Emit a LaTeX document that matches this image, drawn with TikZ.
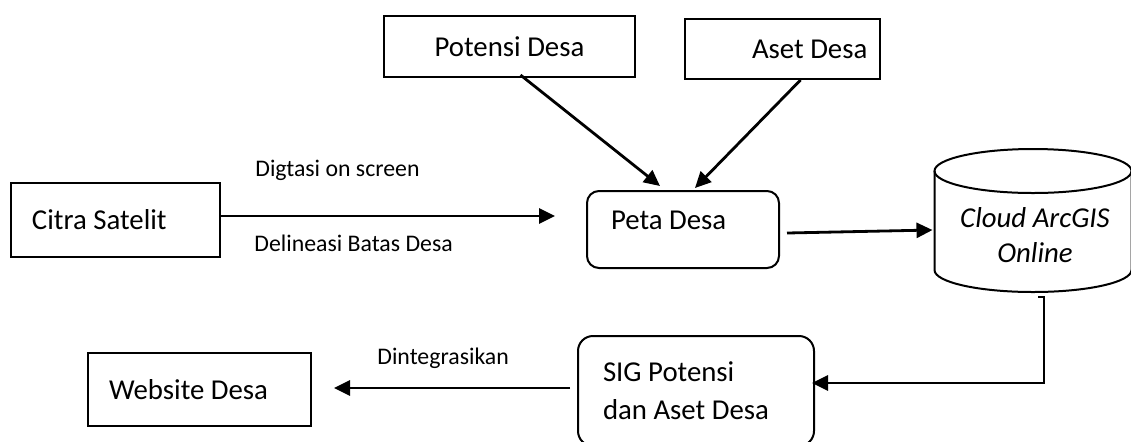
\documentclass[tikz,border=0pt]{standalone}
\usepackage{fontspec}
\setmainfont{Carlito}
\usetikzlibrary{arrows.meta,calc}

\tikzset{
  box/.style={draw, line width=1pt, font=\fontsize{14.4}{19}\selectfont,
    execute at begin node={\spaceskip=0pt\xspaceskip=0pt\relax}},
  rbox/.style={box, rounded corners=6pt},
  lbl/.style={font=\fontsize{11.9}{14}\selectfont, anchor=west, inner sep=0pt},
  arr/.style={line width=1.4pt, -{Triangle[length=8pt, width=7.5pt]}}
}

\begin{document}
\begin{tikzpicture}[x=0.5pt, y=-0.5pt]
  \useasboundingbox (0,0) rectangle (1131,441);
  \node[box, minimum height=37pt, inner xsep=10.5pt, text width=83.5pt, align=left] (citra) at(115.5,220){Citra Satelit};
  \node[box, minimum width=125.5pt, minimum height=30.5pt] (potensi) at(509.5,46.5){Potensi Desa};
  \node[box, minimum height=30pt, inner xsep=6pt, text width=85.5pt, align=left] (aset) at(782.5,49){\hspace*{27.5pt}Aset Desa};
  \node[rbox, minimum height=38.5pt, inner xsep=12pt, text width=72pt, text depth=9pt, align=left] (peta) at(683,229.5){Peta Desa};
  \node[box, minimum height=36.5pt, inner xsep=10.5pt, text width=90.5pt, align=left] (website) at(199.5,389.5){Website Desa};
  \node[rbox, rounded corners=7.5pt, minimum height=55pt, inner xsep=12.5pt, text width=93pt, align=left] (sig) at(696,391){SIG Potensi\\dan Aset Desa};
  \node[font=\fontsize{14.4}{17.5}\selectfont\itshape, align=center] (cloud) at(1035,235.5){Cloud ArcGIS\\Online};

  \coordinate (cyl) at(1033,171);
  \draw[line width=1pt] (cyl) ellipse[x radius=98.5, y radius=22];
  \draw[line width=1pt] ($(cyl)+(-98.5,0)$) -- ++(0,99) arc[start angle=180, end angle=0, x radius=98.5, y radius=22] -- ++(0,-99);

  \node[lbl] (digit) at(255,170){Digtasi on screen};
  \node[lbl] (delin) at(254,243){Delineasi Batas Desa};
  \node[lbl] (integ) at(377,358){Dintegrasikan};

  \coordinate (citraEnd) at(555,216);
  \draw[arr] (citra.east |- citraEnd) -- (citraEnd);
  \draw[arr] ($(potensi.south)+(11,-3)$) -- ($(peta.north)+(-23,-4)$);
  \draw[arr] ($(aset.south)+(18,0)$) -- ($(peta.north)+(12,-2)$);
  \draw[arr] ($(peta.east)+(7,3.5)$) -- ($(cyl)+(-100.5,59)$);
  \draw[arr] ($(cyl)+(5,126)$) -- ++(6,0) |- ($(sig.east)+(-3,-8)$);
  \draw[arr] ($(sig.west)+(-7,-3)$) -- ($(website.east)+(22,-1.5)$);
\end{tikzpicture}
\end{document}
